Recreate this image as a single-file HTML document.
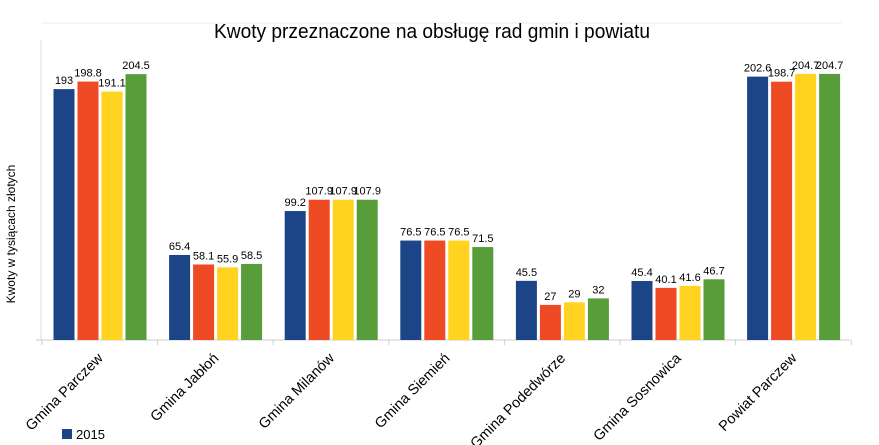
<!DOCTYPE html>
<html><head><meta charset="utf-8"><style>body{margin:0;background:#fff}svg{display:block}</style></head><body>
<svg width="879" height="445" xmlns="http://www.w3.org/2000/svg" font-family="Liberation Sans, sans-serif">
<rect width="879" height="445" fill="#fff"/>
<line x1="42" y1="23" x2="842" y2="23" stroke="#eee"/>
<text x="432" y="38" font-size="20" text-anchor="middle" textLength="436" lengthAdjust="spacingAndGlyphs" fill="#000">Kwoty przeznaczone na obsługę rad gmin i powiatu</text>
<text transform="translate(15,234) rotate(-90)" font-size="12" text-anchor="middle">Kwoty w tysiącach złotych</text>
<line x1="41" y1="40" x2="41" y2="340" stroke="#ddd"/>
<line x1="36" y1="340" x2="850" y2="340" stroke="#ccc"/>
<g id="bars"></g>
<g id="labels" font-size="11" text-anchor="middle"></g>
<g id="cats" font-size="14.5" text-anchor="end"></g>
<rect x="62" y="429" width="10" height="10" fill="#1c4587"/>
<text x="76" y="439" font-size="13">2015</text>
<script>
var d=[[193,198.8,191.1,204.5],[65.4,58.1,55.9,58.5],[99.2,107.9,107.9,107.9],[76.5,76.5,76.5,71.5],[45.5,27,29,32],[45.4,40.1,41.6,46.7],[202.6,198.7,204.7,204.7]];
var n=["Gmina Parczew","Gmina Jabłoń","Gmina Milanów","Gmina Siemień","Gmina Podedwórze","Gmina Sosnowica","Powiat Parczew"];
var c=["#1c4587","#ee4a23","#ffd320","#579d3a"];
var ns="http://www.w3.org/2000/svg",B=document.getElementById("bars"),L=document.getElementById("labels"),C=document.getElementById("cats"),ax=document.querySelector("svg");
function el(t,a,p,tx){var e=document.createElementNS(ns,t);for(var k in a)e.setAttribute(k,a[k]);if(tx!=null)e.textContent=tx;p.appendChild(e);return e;}
var s=1.3,st=115.6;
for(var g=0;g<7;g++){var x0=53.5+g*st;
el("line",{x1:42+g*st,y1:340,x2:42+g*st,y2:345,stroke:"#ccc"},ax);
for(var i=0;i<4;i++){var v=d[g][i],h=v*s,x=x0+i*24;
el("rect",{x:x,y:340-h,width:21,height:h,fill:c[i]},B);
el("text",{x:x+10.5,y:340-h-5},L,String(v));}
var cx=42+g*st+st/2+4;
el("text",{transform:"translate("+cx+",359) rotate(-45)"},C,n[g]);}
el("line",{x1:42+7*st,y1:340,x2:42+7*st,y2:345,stroke:"#ccc"},ax);
</script>
</svg>
</body></html>
